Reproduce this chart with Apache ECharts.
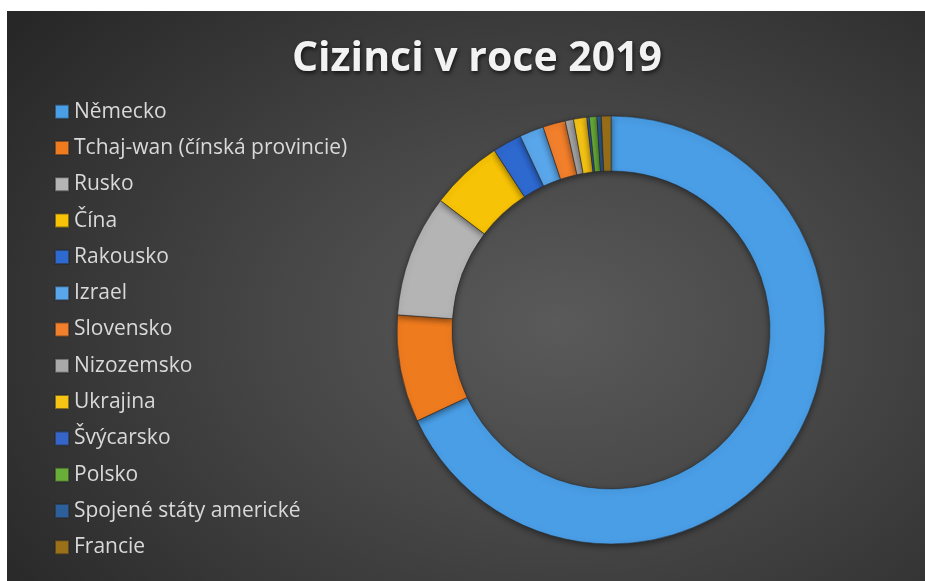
<!DOCTYPE html>
<html>
<head>
<meta charset="utf-8">
<script src="https://cdn.jsdelivr.net/npm/echarts@6/dist/echarts.min.js"></script>
<style>
  html, body { margin: 0; padding: 0; background: #ffffff; }
  #wrap { position: relative; width: 925px; height: 581px; overflow: hidden; }
  #bg { position: absolute; left: 7px; top: 11px; right: 0; bottom: 0;
        background: radial-gradient(ellipse 75% 85% at 60% 55%, #5a5a5a 0%, #474747 40%, #2f2f2f 85%, #272727 100%); }
  #chart { position: absolute; left: 0; top: 0; width: 925px; height: 581px; }
</style>
</head>
<body>
<div id="wrap"><div id="bg"></div><div id="chart"></div></div>
<script>
const titleText = 'Cizinci v roce 2019';
const categories = ['Německo', 'Tchaj-wan (čínská provincie)', 'Rusko', 'Čína', 'Rakousko', 'Izrael', 'Slovensko', 'Nizozemsko', 'Ukrajina', 'Švýcarsko', 'Polsko', 'Spojené státy americké', 'Francie'];
const values = [68.0, 8.1, 9.2, 5.5, 2.2, 1.83, 1.7, 0.63, 1.0, 0.18, 0.57, 0.33, 0.72];
const colors = ['#4a9ee6', '#ef7b1f', '#b4b4b4', '#f7c306', '#2e69d0', '#5aa6ea', '#f27f2c', '#a9a9a9', '#f5c415', '#3565c8', '#6aae3a', '#2d5f9a', '#9a7018'];

const chart = echarts.init(document.getElementById('chart'), null, { renderer: 'canvas' });
chart.setOption({
  backgroundColor: 'transparent',
  animation: false,
  color: colors,
  title: {
    text: titleText,
    left: 472, top: 34, textAlign: 'center',
    textStyle: {
      color: '#f2f2f2', fontFamily: 'Open Sans', fontWeight: 'bold', fontSize: 41,
      textShadowColor: 'rgba(0,0,0,0.7)', textShadowBlur: 4, textShadowOffsetX: 1, textShadowOffsetY: 2
    }
  },
  legend: {
    orient: 'vertical', left: 49, top: 96.2,
    icon: 'rect', itemWidth: 14, itemHeight: 14, itemGap: 15.3,
    data: categories,
    textStyle: { color: '#d9d9d9', fontFamily: 'Open Sans', fontSize: 21, lineHeight: 21, padding: [0, 0, 0, 0] },
    selectedMode: false
  },
  series: [{
    type: 'pie',
    center: [611, 330],
    radius: [159, 214],
    startAngle: 90,
    clockwise: true,
    label: { show: false },
    labelLine: { show: false },
    emphasis: { disabled: true },
    itemStyle: { borderColor: 'rgba(40,40,40,0.55)', borderWidth: 1, shadowBlur: 6, shadowColor: 'rgba(0,0,0,0.45)', shadowOffsetY: 2 },
    data: categories.map((c, i) => ({ name: c, value: values[i] }))
  }]
});
</script>
</body>
</html>
